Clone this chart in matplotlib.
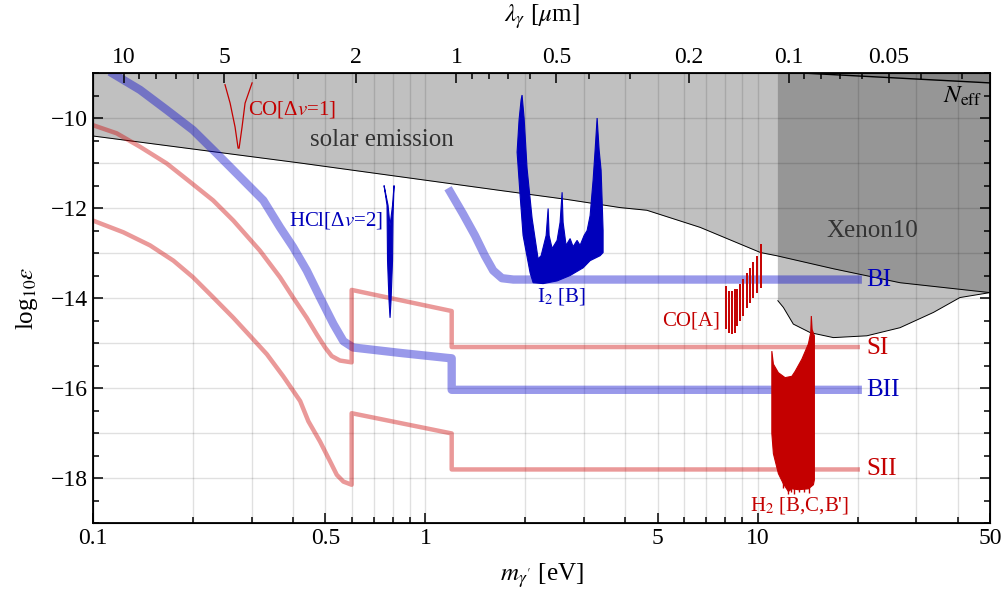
import matplotlib
matplotlib.use("Agg")
import matplotlib.pyplot as plt
import matplotlib.ticker as mticker

plt.rcParams["font.family"] = ["Liberation Serif", "DejaVu Serif"]
plt.rcParams["mathtext.fontset"] = "stix"
plt.rcParams["axes.unicode_minus"] = True

HC = 1.23984  # eV * um, m -> lambda

# --- bottom / top axis ticks
m_major = [0.1, 0.5, 1, 5, 10, 50]
m_major_labels = ["0.1", "0.5", "1", "5", "10", "50"]
m_minor = [0.2, 0.3, 0.4, 0.6, 0.7, 0.8, 0.9, 2, 3, 4, 6, 7, 8, 9, 20, 30, 40]
lam_major = [10, 5, 2, 1, 0.5, 0.2, 0.1, 0.05]
lam_major_labels = ["10", "5", "2", "1", "0.5", "0.2", "0.1", "0.05"]
lam_minor = [9, 8, 7, 6, 4, 3, 0.9, 0.8, 0.7, 0.6, 0.4, 0.3,
             0.09, 0.08, 0.07, 0.06, 0.04, 0.03]
y_major = [-18, -16, -14, -12, -10]
y_grid = [-18, -17, -16, -15, -14, -13, -12, -11, -10]

# --- excluded regions
solar_m = [0.1, 0.42, 1.68, 2.67, 3.85, 4.64, 6.71, 10.2, 11.4, 16.9, 26.8, 50]
solar_y = [-10.40, -11.00, -11.61, -11.81, -11.99, -12.05, -12.43, -12.99,
           -13.06, -13.35, -13.66, -13.88]
xenon_m = [11.5, 11.5, 11.95, 12.8, 14.4, 16.9, 21.3, 26.8, 33.8, 40.6, 50, 50]
xenon_y = [-9, -14.06, -14.21, -14.58, -14.77, -14.88, -14.84, -14.66,
           -14.32, -13.99, -13.88, -9]
neff_m = [13.6, 50]
neff_y = [-9.0, -9.22]

# --- sensitivity curves
bi_m = [1.187, 1.298, 1.41, 1.51, 1.60, 1.70, 1.84, 20]
bi_y = [-11.64, -12.13, -12.61, -13.06, -13.39, -13.56, -13.59, -13.59]
bii_m = [0.1151, 0.1385, 0.1666, 0.2, 0.2357, 0.277, 0.3254, 0.3653, 0.4,
         0.4396, 0.482, 0.529, 0.5667, 0.6063, 0.8393, 1.16, 1.20, 1.20, 20]
bii_y = [-9.02, -9.375, -9.82, -10.27, -10.79, -11.31, -11.83, -12.43, -12.87,
         -13.39, -13.99, -14.58, -14.96, -15.10, -15.22, -15.33, -15.34,
         -16.04, -16.04]
si_m = [0.1, 0.1178, 0.1385, 0.1666, 0.1958, 0.2297, 0.2644, 0.318, 0.3653,
        0.40, 0.4396, 0.4713, 0.4993, 0.5226, 0.5535, 0.60, 0.60,
        1.20, 1.20, 20]
si_y = [-10.16, -10.34, -10.64, -11.01, -11.42, -11.83, -12.28, -12.95,
        -13.54, -13.99, -14.44, -14.81, -15.10, -15.29, -15.39, -15.43,
        -13.82, -14.29, -15.09, -15.09]
sii_m = [0.1, 0.1234, 0.1484, 0.1745, 0.2, 0.2302, 0.2644, 0.2966, 0.3335,
         0.3735, 0.42, 0.4446, 0.482, 0.5167, 0.5414, 0.5667, 0.60,
         0.60, 1.20, 1.20, 20]
sii_y = [-12.28, -12.54, -12.83, -13.17, -13.54, -13.99, -14.44, -14.84,
         -15.25, -15.74, -16.29, -16.74, -17.19, -17.63, -17.93, -18.08,
         -18.15, -16.56, -17.01, -17.81, -17.81]

# --- molecular spectra (outlines)
co1_m = [0.2495, 0.2585, 0.2675, 0.2732, 0.2751, 0.2808, 0.2867, 0.301]
co1_y = [-9.26, -9.67, -10.20, -10.67, -10.67, -10.20, -9.67, -9.22]
hcl_m = [0.751, 0.7667, 0.7694, 0.7774, 0.7829, 0.7883, 0.7965, 0.7993,
         0.8049, 0.7965, 0.7829, 0.7721]
hcl_y = [-11.50, -11.94, -13.17, -14.06, -14.44, -14.06, -13.17, -12.17,
         -11.50, -11.94, -12.39, -11.94]
i2_m = [1.954, 1.982, 2.023, 2.095, 2.184, 2.230, 2.309, 2.341, 2.357, 2.407,
        2.491, 2.543, 2.579, 2.597, 2.651, 2.726, 2.783, 2.861, 2.921, 3.004,
        3.067, 3.131, 3.197, 3.242, 3.287, 3.333, 3.379, 3.403, 3.426, 3.426,
        3.356, 3.131, 2.983, 2.726, 2.491, 2.261, 2.110, 2.066, 1.968, 1.928,
        1.888, 1.914, 1.941]
i2_y = [-9.49, -10.00, -11.12, -12.23, -13.13, -13.06, -12.61, -12.01, -12.61,
        -12.90, -12.72, -12.32, -11.65, -12.32, -12.83, -12.68, -12.86, -12.72,
        -12.83, -12.61, -12.50, -12.17, -11.38, -10.71, -10.00, -10.71, -11.16,
        -11.83, -12.50, -12.99, -13.06, -13.17, -13.33, -13.50, -13.62, -13.68,
        -13.66, -13.44, -12.61, -11.72, -10.76, -10.04, -9.60]
coa_m = [8.04, 8.22, 8.38, 8.53, 8.69, 8.85, 9.06, 9.27, 9.49, 9.71, 9.98, 10.21]
coa_lo = [-14.69, -14.78, -14.80, -14.78, -14.62, -14.51, -14.40, -14.22,
          -14.11, -14.00, -13.88, -13.77]
coa_hi = [-13.73, -13.84, -13.84, -13.79, -13.79, -13.68, -13.57, -13.44,
          -13.33, -13.21, -13.06, -12.79]
h2_m = [11.03, 11.15, 11.54, 12.09, 12.67, 12.96, 13.58, 14.21, 14.44, 14.50,
        14.58, 14.81, 14.81, 14.71, 14.21, 13.26, 12.67, 12.37, 11.95, 11.54,
        11.15, 11.03]
h2_y = [-15.18, -15.47, -15.66, -15.77, -15.74, -15.63, -15.36, -15.02, -14.77,
        -14.40, -14.70, -14.84, -18.04, -18.15, -18.24, -18.26, -18.24, -18.30,
        -18.13, -17.90, -17.46, -17.01]
h2_spike_m = [11.9, 12.3, 12.6, 12.9, 13.3, 13.8, 14.3]
h2_spike_lo = [-18.22, -18.35, -18.30, -18.36, -18.32, -18.30, -18.33]

BLUE_BAND = (0.0, 0.0, 0.8)
RED_BAND = (0.8, 0.0, 0.0)
BLUE = "#0000bb"
RED = "#c40000"

fig = plt.figure(figsize=(10.07, 5.95), dpi=100)
ax = fig.add_axes([0.0924, 0.121, 0.8907, 0.7563])
ax.set_xscale("log")
ax.set_xlim(0.1, 50)
ax.set_ylim(-19, -9)

# shaded regions
ax.fill_between(solar_m, solar_y, -9, color="#c0c0c0", lw=0, zorder=1)
ax.plot(solar_m, solar_y, color="k", lw=0.7, zorder=1.2)
ax.fill(xenon_m, xenon_y, color="#424242", alpha=0.333, lw=0, zorder=1.1)
ax.plot(xenon_m[1:-1], xenon_y[1:-1], color="k", lw=0.7, zorder=1.2)
ax.fill_between(neff_m, neff_y, -9, color="#424242", alpha=0.2, lw=0, zorder=1.1)
ax.plot(neff_m, neff_y, color="k", lw=1.0, zorder=1.2)

# grid
for v in m_major + m_minor:
    ax.axvline(v, color="k", alpha=0.12, lw=1, zorder=1.5)
for v in y_grid:
    ax.axhline(v, color="k", alpha=0.12, lw=1, zorder=1.5)

# sensitivity bands
for xs, ys in [(bii_m, bii_y), (bi_m, bi_y)]:
    ax.plot(xs, ys, color=BLUE_BAND, alpha=0.4, lw=6, zorder=2,
            solid_joinstyle="round")
for xs, ys in [(si_m, si_y), (sii_m, sii_y)]:
    ax.plot(xs, ys, color=RED_BAND, alpha=0.4, lw=3.2, zorder=2,
            solid_joinstyle="round")

# spectra
ax.plot(co1_m, co1_y, color=RED, lw=0.9, zorder=3)
ax.fill(hcl_m, hcl_y, color=BLUE, lw=0.8, zorder=3)
ax.fill(i2_m, i2_y, color=BLUE, lw=0.8, zorder=3)
ax.vlines(coa_m, coa_lo, coa_hi, color=RED, lw=1.4, zorder=3)
ax.fill(h2_m, h2_y, color=RED, lw=0.8, zorder=3)
ax.vlines(h2_spike_m, h2_spike_lo, -18.0, color=RED, lw=1.0, zorder=3)

# labels on the plot
ax.text(0.741, -10.49, "solar emission", fontsize=18, color="#333333",
        ha="center", va="center", zorder=4)
ax.text(22.2, -12.5, "Xenon10", fontsize=18, color="#333333",
        ha="center", va="center", zorder=4)
ax.text(47.5, -9.52, r"$N_{\rm eff}$", fontsize=18, color="k",
        ha="right", va="center", zorder=4)
ax.text(0.293, -9.82, "CO[Δ$v$=1]", fontsize=15, color=RED,
        ha="left", va="center", zorder=4)
ax.text(0.748, -12.28, "HCl[Δ$v$=2]", fontsize=15, color=BLUE,
        ha="right", va="center", zorder=4)
ax.text(2.57, -13.97, "I$_2$ [B]", fontsize=15, color=BLUE,
        ha="center", va="center", zorder=4)
ax.text(7.7, -14.51, "CO[A]", fontsize=15, color=RED,
        ha="right", va="center", zorder=4)
ax.text(13.4, -18.62, "H$_2$ [B,C,B']", fontsize=15, color=RED,
        ha="center", va="center", zorder=4)
for name, yv, col in [("BI", -13.6, BLUE), ("SI", -15.1, RED),
                      ("BII", -16.05, BLUE), ("SII", -17.8, RED)]:
    ax.text(21.2, yv, name, fontsize=18, color=col, ha="left", va="center",
            zorder=4)

# axes ticks
ax.set_xticks(m_major)
ax.set_xticklabels(m_major_labels)
ax.set_xticks(m_minor, minor=True)
ax.xaxis.set_minor_formatter(mticker.NullFormatter())
ax.set_yticks(y_major)
ax.yaxis.set_minor_locator(mticker.MultipleLocator(0.5))
ax.tick_params(which="both", direction="in", top=False, right=True,
               labelsize=17, width=1.1)
ax.tick_params(which="major", length=7)
ax.tick_params(which="minor", length=4)
for sp in ax.spines.values():
    sp.set_linewidth(1.3)

ax.set_xlabel(r"$m_{\gamma'}$ [eV]", fontsize=18, labelpad=9)
ax.set_ylabel(r"log$_{10}\epsilon$", fontsize=18, labelpad=8)

top = ax.twiny()
top.set_xscale("log")
top.set_xlim(ax.get_xlim())
top.set_xticks([HC / l for l in lam_major])
top.set_xticklabels(lam_major_labels)
top.set_xticks([HC / l for l in lam_minor], minor=True)
top.xaxis.set_minor_formatter(mticker.NullFormatter())
top.tick_params(which="both", direction="in", labelsize=17, width=1.1)
top.tick_params(which="major", length=7)
top.tick_params(which="minor", length=4)
top.set_xlabel(r"$\lambda_\gamma$ [$\mu$m]", fontsize=18, labelpad=18)

fig.savefig("out.png", dpi=100)
